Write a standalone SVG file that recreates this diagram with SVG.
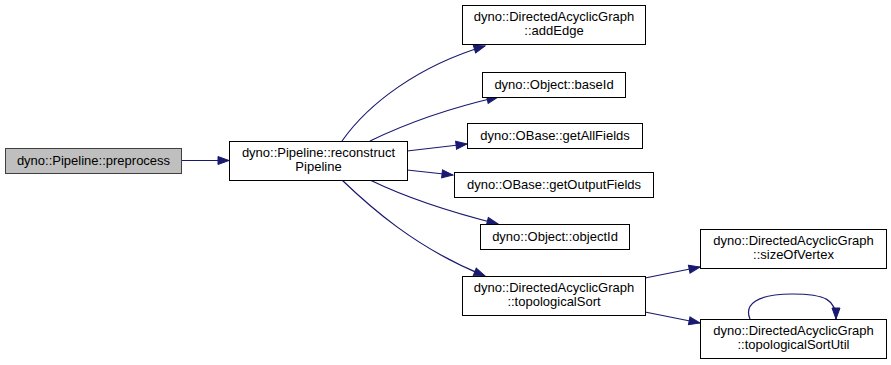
<svg xmlns="http://www.w3.org/2000/svg" width="891" height="365" viewBox="0 0 891 365">
  <style>
    .node rect { fill: #ffffff; stroke: #000000; stroke-width: 1; }
    .node.root rect { fill: #bfbfbf; stroke: #3f3f3f; }
    .node text { font-family: "Liberation Sans", Arial, sans-serif; font-size: 13px; fill: #000000; text-anchor: middle; }
    .edge { fill: none; stroke: #191970; stroke-width: 1.2; marker-end: url(#arrow); }
  </style>
  <defs>
    <marker id="arrow" markerUnits="userSpaceOnUse" markerWidth="13" markerHeight="10" refX="12" refY="5" orient="auto">
      <path d="M1,1 L12,5 L1,9 z" fill="#191970" stroke="#191970" stroke-width="1"/>
    </marker>
  </defs>
  <rect width="891" height="365" fill="#ffffff"/>

  <g id="connectors">
    <path class="edge" d="M181,160.5 L229,160.5"/>
    <path class="edge" d="M342,141 C368,104 418,66 485,46"/>
    <path class="edge" d="M370,141 C405,124 450,108 498,97"/>
    <path class="edge" d="M407,151 L467,144"/>
    <path class="edge" d="M407,170 L453,175"/>
    <path class="edge" d="M370,180 C405,197 450,212 498,224"/>
    <path class="edge" d="M342,180 C368,205 415,248 485,276"/>
    <path class="edge" d="M645,278 L700,267"/>
    <path class="edge" d="M645,312 L700,323"/>
    <path class="edge" d="M750,319 C744,305 756,294 792,294 C826,294 836,300 836,319"/>
  </g>

  <g id="node-preprocess" class="node root">
    <rect x="5.5" y="148.5" width="176" height="25"/>
    <text x="93.5" y="165">dyno::Pipeline::preprocess</text>
  </g>
  <g id="node-reconstructPipeline" class="node">
    <rect x="229.5" y="141.5" width="178" height="39"/>
    <text x="318.5" y="157">dyno::Pipeline::reconstruct</text>
    <text x="318.5" y="171">Pipeline</text>
  </g>
  <g id="node-addEdge" class="node">
    <rect x="462.5" y="5.5" width="183" height="39"/>
    <text x="554" y="21">dyno::DirectedAcyclicGraph</text>
    <text x="554" y="35">::addEdge</text>
  </g>
  <g id="node-baseId" class="node">
    <rect x="482.5" y="72.5" width="143" height="25"/>
    <text x="554" y="89">dyno::Object::baseId</text>
  </g>
  <g id="node-getAllFields" class="node">
    <rect x="467.5" y="123.5" width="175" height="25"/>
    <text x="555" y="140">dyno::OBase::getAllFields</text>
  </g>
  <g id="node-getOutputFields" class="node">
    <rect x="454.5" y="172.5" width="199" height="25"/>
    <text x="554" y="189">dyno::OBase::getOutputFields</text>
  </g>
  <g id="node-objectId" class="node">
    <rect x="480.5" y="224.5" width="149" height="25"/>
    <text x="555" y="241">dyno::Object::objectId</text>
  </g>
  <g id="node-topologicalSort" class="node">
    <rect x="462.5" y="276.5" width="183" height="39"/>
    <text x="554" y="292">dyno::DirectedAcyclicGraph</text>
    <text x="554" y="306">::topologicalSort</text>
  </g>
  <g id="node-sizeOfVertex" class="node">
    <rect x="700.5" y="229.5" width="186" height="39"/>
    <text x="793.5" y="245">dyno::DirectedAcyclicGraph</text>
    <text x="793.5" y="259">::sizeOfVertex</text>
  </g>
  <g id="node-topologicalSortUtil" class="node">
    <rect x="700.5" y="319.5" width="186" height="39"/>
    <text x="793.5" y="335">dyno::DirectedAcyclicGraph</text>
    <text x="793.5" y="349">::topologicalSortUtil</text>
  </g>
</svg>
